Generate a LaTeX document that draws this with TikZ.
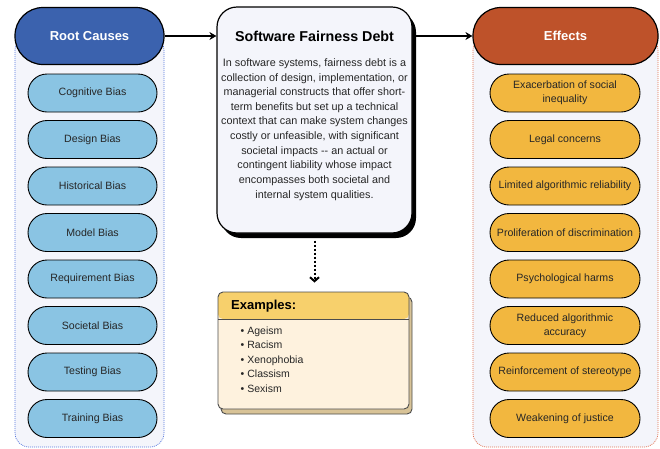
\documentclass[tikz,border=0pt]{standalone}
\usepackage{fontspec}
\setmainfont{Liberation Sans}
\usetikzlibrary{arrows.meta,shadows}

\definecolor{rootblue}{HTML}{3B62AE}
\definecolor{causeblue}{HTML}{8AC4E3}
\definecolor{effred}{HTML}{BE522A}
\definecolor{effyellow}{HTML}{F2B73F}
\definecolor{panel}{HTML}{F4F5FB}
\definecolor{bluedot}{HTML}{5577DD}
\definecolor{reddot}{HTML}{E07050}
\definecolor{exhead}{HTML}{F7D06C}
\definecolor{exbody}{HTML}{FEF2DE}
\definecolor{exshadow}{HTML}{D8C397}

\tikzset{
  head/.style={draw=black, line width=1.2pt, rounded corners=28pt, minimum height=57pt, text=white, font=\fontsize{13}{15}\selectfont\bfseries},
  cause/.style={draw=black, line width=0.9pt, fill=causeblue, rounded corners=19pt, minimum width=129pt, minimum height=38pt, inner sep=2pt, align=center, text=black!85, font=\fontsize{10.6}{14}\selectfont},
  effect/.style={cause, fill=effyellow, minimum width=150pt},
  panelbox/.style={fill=panel, line width=0.7pt, dash pattern=on 1pt off 1pt, rounded corners=14pt},
  link/.style={-{Stealth[length=7pt,width=8pt]}, line width=1.6pt},
}

\begin{document}
\begin{tikzpicture}[x=1pt,y=-1pt]
\useasboundingbox (0,0) rectangle (660,448);

\coordinate (R) at (89.5,36);
\coordinate (E) at (565.5,36);
\coordinate (S) at (314.5,120);
\coordinate (X) at (313.5,350.5);

% side panels
\draw[panelbox, draw=bluedot] (15,36) rectangle (164,447);
\draw[panelbox, draw=reddot] (473,36) rectangle (658,447);

\node[head, fill=rootblue, minimum width=149pt] (roothead) at (R) {Root Causes};
\node[head, fill=effred, minimum width=185pt] (effhead) at (E) {Effects};

% root causes
\node[cause] (c1) at (92.5,93) {Cognitive Bias};
\node[cause] (c2) at (92.5,139.5) {Design Bias};
\node[cause] (c3) at (92.5,186) {Historical Bias};
\node[cause] (c4) at (92.5,232.5) {Model Bias};
\node[cause] (c5) at (92.5,279) {Requirement Bias};
\node[cause] (c6) at (92.5,325.5) {Societal Bias};
\node[cause] (c7) at (92.5,372) {Testing Bias};
\node[cause] (c8) at (92.5,418.5) {Training Bias};

% effects
\node[effect] (e1) at (565,93) {Exacerbation of social\\inequality};
\node[effect] (e2) at (565,139.5) {Legal concerns};
\node[effect] (e3) at (565,186) {Limited algorithmic reliability};
\node[effect] (e4) at (565,232.5) {Proliferation of discrimination};
\node[effect] (e5) at (565,279) {Psychological harms};
\node[effect] (e6) at (565,325.5) {Reduced algorithmic\\accuracy};
\node[effect] (e7) at (565,372) {Reinforcement of stereotype};
\node[effect] (e8) at (565,418.5) {Weakening of justice};

% definition box
\node[draw=black, line width=1.2pt, fill=panel, rounded corners=20pt, minimum width=195pt, minimum height=226pt,
  drop shadow={shadow xshift=4pt, shadow yshift=-5pt, fill=black, opacity=1}] (debt) at (S) {};
\node[font=\fontsize{14.3}{16}\selectfont\bfseries] (debttitle) at (314.5,36) {Software Fairness Debt};
\node[align=center, text=black!85, font=\fontsize{10.8}{14.6}\selectfont] (debttext) at (314.5,129.5)
  {In software systems, fairness debt is a\\collection of design, implementation, or\\managerial constructs that offer short-\\term benefits but set up a technical\\context that can make system changes\\costly or unfeasible, with significant\\societal impacts -{}- an actual or\\contingent liability whose impact\\encompasses both societal and\\internal system qualities.};

% examples box
\node[draw=black!70, line width=0.9pt, fill=exbody, rounded corners=5pt, minimum width=191pt, minimum height=117pt,
  drop shadow={shadow xshift=3pt, shadow yshift=-5pt, fill=exshadow, draw=black!70, opacity=1},
  path picture={\fill[exhead] (path picture bounding box.north west) rectangle ([yshift=-27pt]path picture bounding box.north east);
    \draw[black!70, line width=0.9pt] ([yshift=-27pt]path picture bounding box.north west) -- ([yshift=-27pt]path picture bounding box.north east);}] (exbox) at (X) {};
\node[anchor=west, inner sep=0pt, font=\fontsize{13}{15}\selectfont\bfseries] (extitle) at (231,306) {Examples:};
\node[anchor=west, inner sep=0pt, align=left, text=black!85, font=\fontsize{10.5}{14.6}\selectfont] (exlist) at (240.5,359.5)
  {\textbullet\hspace{3pt}Ageism\\\textbullet\hspace{3pt}Racism\\\textbullet\hspace{3pt}Xenophobia\\\textbullet\hspace{3pt}Classism\\\textbullet\hspace{3pt}Sexism};

% connectors
\draw[link] (roothead.east) -- (roothead -| debt.west);
\draw[link] (effhead -| debt.east) -- (effhead.west);
\draw[line width=2pt, dash pattern=on 2pt off 2pt, -{Straight Barb[length=4pt,width=9pt]}, shorten <=7pt, shorten >=9pt] (debt.south) -- (debt.south |- exbox.north);

\end{tikzpicture}
\end{document}
